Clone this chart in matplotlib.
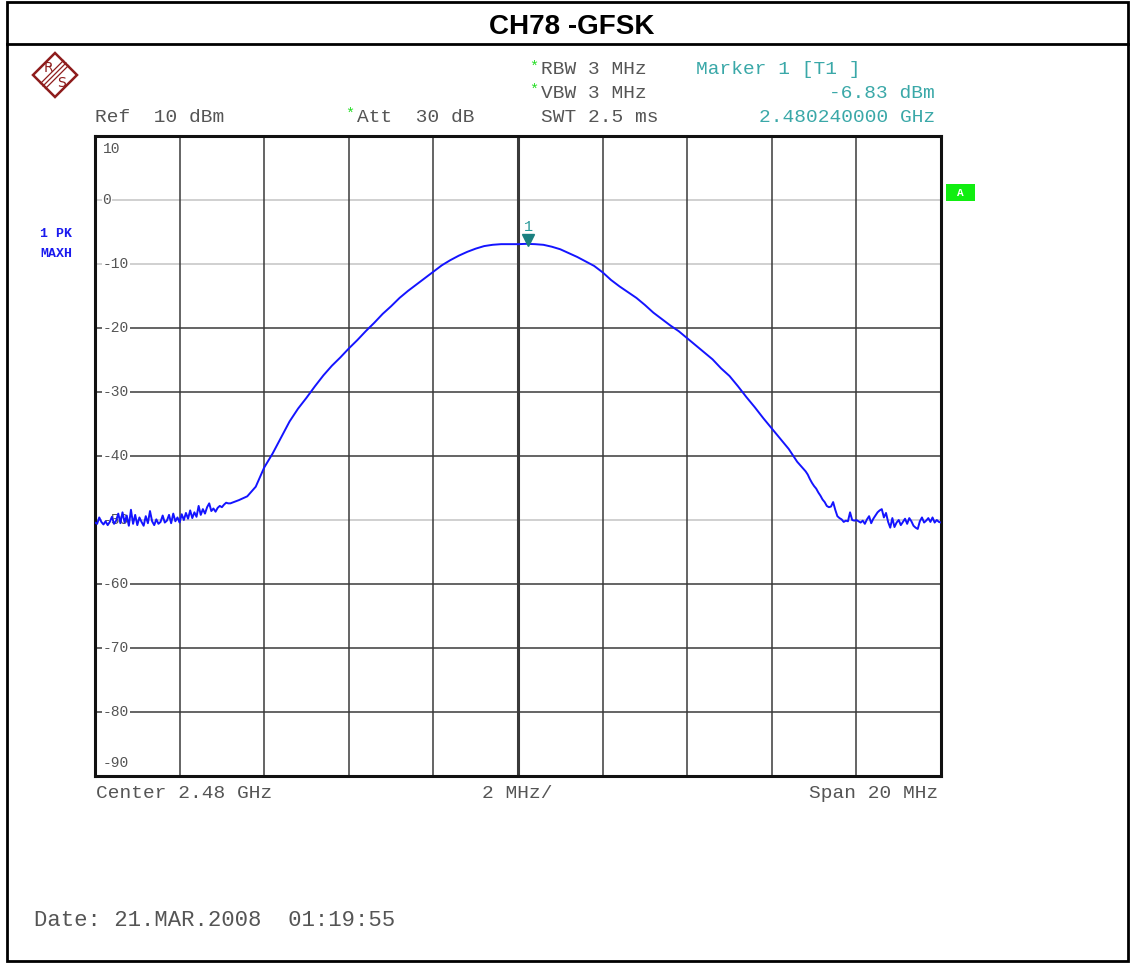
import numpy as np
import matplotlib
matplotlib.use("Agg")
import matplotlib.pyplot as plt
from matplotlib.patches import Polygon, Rectangle
from matplotlib.lines import Line2D

# ---------------- data ----------------
# left noise floor, 0.05 MHz steps starting at -10 MHz offset
left_noise_db = [
    -50.4, -50.6, -49.6, -50.3, -50.7, -50.2, -50.8, -50.3, -49.5, -50.6,
    -50.1, -49.0, -50.5, -48.8, -50.4, -49.3, -50.9, -48.4, -50.6, -49.2,
    -50.8, -49.6, -50.3, -50.9, -49.4, -50.5, -48.6, -50.2, -50.8, -49.9,
    -50.6, -50.3, -49.3, -50.4, -50.1, -49.2, -50.5, -49.0, -50.2, -49.6,
    -50.4, -49.1, -50.0, -48.9, -49.8, -48.5, -49.7, -48.8, -49.5, -47.8,
    -49.2, -48.3, -49.0, -48.0, -47.4, -48.6, -48.2, -48.7, -48.1, -47.8,
    -48.0, -47.6, -47.3, -47.4]
# main lobe, 0.2 MHz steps starting at -6.8 MHz offset
body_db = [
    -47.4, -46.9, -46.3, -44.8, -41.8, -39.6, -37.1, -34.6, -32.6, -30.9,
    -29.1, -27.4, -25.9, -24.6, -23.2, -21.9, -20.5, -19.2, -17.8, -16.6,
    -15.3, -14.2, -13.2, -12.2, -11.2, -10.2, -9.4, -8.7, -8.1, -7.6,
    -7.2, -7.0, -6.9, -6.9, -6.9, -6.85, -6.9, -7.0, -7.3, -7.7,
    -8.3, -8.9, -9.6, -10.3, -11.3, -12.5, -13.5, -14.4, -15.3, -16.4,
    -17.6, -18.6, -19.6, -20.5, -21.6, -22.7, -23.8, -24.9, -26.3, -27.5,
    -29.1, -30.8, -32.4, -34.1, -35.7, -37.3, -38.9, -40.9, -42.4]
# right skirt + noise floor, 0.05 MHz steps starting at 6.85 MHz offset
right_tail_db = [
    -42.9, -43.6, -44.2, -44.7, -45.1, -45.7, -46.2, -46.8, -47.2, -47.8,
    -48.0, -47.9, -47.2, -48.4, -49.4, -49.7, -49.9, -50.3,
    -50.1, -50.2, -48.8, -50.0, -50.1, -50.0, -50.2, -50.4, -50.1, -50.6,
    -49.9, -49.4, -50.5, -49.8, -49.3, -48.8, -48.5, -48.3, -49.6, -48.9,
    -50.3, -51.2, -49.7, -51.1, -50.4, -50.0, -50.8, -50.3, -49.8, -50.6,
    -49.7, -50.2, -50.9, -51.2, -51.4, -50.2, -49.6, -50.4, -50.1, -49.7,
    -50.3, -49.6, -50.4, -50.0, -50.3, -50.4]

left_start, left_step = -10.0, 0.05
body_start, body_step = -6.8, 0.2
right_start, right_step = 6.85, 0.05

marker_freq = 0.24       # MHz offset from 2.48 GHz
marker_level = -6.83     # dBm

y_ticks = [10, 0, -10, -20, -30, -40, -50, -60, -70, -80, -90]
y_tick_labels = ["10", "0", "-10", "-20", "-30", "-40", "-50", "-60", "-70", "-80", "-90"]
x_grid = [-10, -8, -6, -4, -2, 0, 2, 4, 6, 8, 10]

title = "CH78 -GFSK"

# ---------------- build trace ----------------
f_left = left_start + left_step * np.arange(len(left_noise_db))
f_body = body_start + body_step * np.arange(len(body_db))
f_right = right_start + right_step * np.arange(len(right_tail_db))
freq = np.concatenate([f_left, f_body, f_right])
level = np.concatenate([left_noise_db, body_db, right_tail_db])

# ---------------- figure ----------------
W, H = 1131, 968
fig = plt.figure(figsize=(W / 100, H / 100), dpi=100)
fig.patch.set_facecolor("white")

def fx(x):
    return x / W

def fy(y):
    return 1 - y / H

# outer frame and title row
fig.add_artist(Rectangle((fx(7), fy(961)), fx(1128) - fx(7), fy(2) - fy(961),
                         transform=fig.transFigure, fill=False, lw=2, ec="black"))
fig.add_artist(Line2D([fx(7), fx(1128)], [fy(44), fy(44)], transform=fig.transFigure,
                      lw=2, color="black"))
fig.text(fx(572), fy(27), title, ha="center", va="center", fontsize=20,
         fontweight="bold", family="Liberation Sans")

# axes
ax = fig.add_axes([fx(95), fy(776), fx(941) - fx(95), fy(136) - fy(776)])
ax.set_xlim(-10, 10)
ax.set_ylim(-90, 10)
ax.set_xticks([])
ax.set_yticks([])
for s in ax.spines.values():
    s.set_linewidth(2.2)
    s.set_color("#111111")

light = {0, -10, -50}
for t in y_ticks[1:]:
    col = "#c4c4c4" if t in light else "#3a3a3a"
    ax.axhline(t, color=col, lw=1.1, zorder=1)
for g in x_grid[1:-1]:
    ax.axvline(g, color="#3a3a3a", lw=2.2 if g == 0 else 1.1, zorder=1)

mono = "Liberation Mono"
gray = "#555555"
ytr = ax.get_yaxis_transform()
for t, lab in zip(y_ticks, y_tick_labels):
    if t == 10:
        yy, bb = 8, None
    elif t == -90:
        yy, bb = -88, None
    else:
        yy, bb = t, dict(facecolor="white", edgecolor="none", pad=0.5)
    ax.text(0.009, yy, lab, transform=ytr, ha="left", va="center", fontsize=10.5,
            family=mono, color=gray, bbox=bb, zorder=2)

ax.plot(freq, level, color="#1414ff", lw=1.4, zorder=3)

# marker
ax.plot([marker_freq], [marker_level + 0.55], marker="v", color="#1a8080",
        markersize=8, zorder=4, ls="none")
ax.text(marker_freq, marker_level + 1.5, "1", ha="center", va="bottom",
        fontsize=11, family=mono, color="#2a9a9a", zorder=4)

# header texts
star_g = "#22dd22"
teal = "#3aa8a8"
fs = 14
fig.text(fx(95), fy(117), "Ref  10 dBm", ha="left", va="center", fontsize=fs, family=mono, color=gray)
fig.text(fx(345), fy(114), "*", ha="left", va="center", fontsize=11, family=mono, color=star_g)
fig.text(fx(357), fy(117), "Att  30 dB", ha="left", va="center", fontsize=fs, family=mono, color=gray)
fig.text(fx(529), fy(67), "*", ha="left", va="center", fontsize=11, family=mono, color=star_g)
fig.text(fx(541), fy(70), "RBW 3 MHz", ha="left", va="center", fontsize=fs, family=mono, color=gray)
fig.text(fx(529), fy(90), "*", ha="left", va="center", fontsize=11, family=mono, color=star_g)
fig.text(fx(541), fy(93), "VBW 3 MHz", ha="left", va="center", fontsize=fs, family=mono, color=gray)
fig.text(fx(541), fy(117), "SWT 2.5 ms", ha="left", va="center", fontsize=fs, family=mono, color=gray)
fig.text(fx(696), fy(70), "Marker 1 [T1 ]", ha="left", va="center", fontsize=fs, family=mono, color=teal)
fig.text(fx(935), fy(93), "-6.83 dBm", ha="right", va="center", fontsize=fs, family=mono, color=teal)
fig.text(fx(935), fy(117), "2.480240000 GHz", ha="right", va="center", fontsize=fs, family=mono, color=teal)

# bottom texts
fig.text(fx(96), fy(794), "Center 2.48 GHz", ha="left", va="center", fontsize=fs, family=mono, color=gray)
fig.text(fx(517), fy(794), "2 MHz/", ha="center", va="center", fontsize=fs, family=mono, color=gray)
fig.text(fx(938), fy(794), "Span 20 MHz", ha="right", va="center", fontsize=fs, family=mono, color=gray)
fig.text(fx(34), fy(921), "Date: 21.MAR.2008  01:19:55", ha="left", va="center", fontsize=16,
         family=mono, color=gray)

# left trace info
fig.text(fx(56), fy(234), "1 PK", ha="center", va="center", fontsize=9.5, family=mono,
         fontweight="bold", color="#1a1aee")
fig.text(fx(56), fy(254), "MAXH", ha="center", va="center", fontsize=9.5, family=mono,
         fontweight="bold", color="#1a1aee")

# "A" indicator
fig.add_artist(Rectangle((fx(946), fy(201)), fx(975) - fx(946), fy(184) - fy(201),
                         transform=fig.transFigure, fc="#11ee11", ec="none"))
fig.text(fx(960.5), fy(192.5), "A", ha="center", va="center", fontsize=8, family=mono,
         fontweight="bold", color="white")

# R&S logo
red = "#8e1c1c"
cx, cy, r = 55, 75, 22
fig.add_artist(Polygon([(fx(cx), fy(cy - r)), (fx(cx + r), fy(cy)), (fx(cx), fy(cy + r)),
                        (fx(cx - r), fy(cy))], closed=True, fill=False, ec=red, lw=1.8,
                       transform=fig.transFigure))
for d in (-2.5, 0, 2.5):
    fig.add_artist(Line2D([fx(43 + d), fx(66 + d)], [fy(86 + d), fy(63 + d)],
                          transform=fig.transFigure, color=red, lw=0.9))
fig.text(fx(48.5), fy(68), "R", ha="center", va="center", fontsize=10, color=red, family="DejaVu Sans")
fig.text(fx(62), fy(83), "S", ha="center", va="center", fontsize=10, color=red, family="DejaVu Sans")

fig.savefig("out.png", dpi=100, facecolor="white")
